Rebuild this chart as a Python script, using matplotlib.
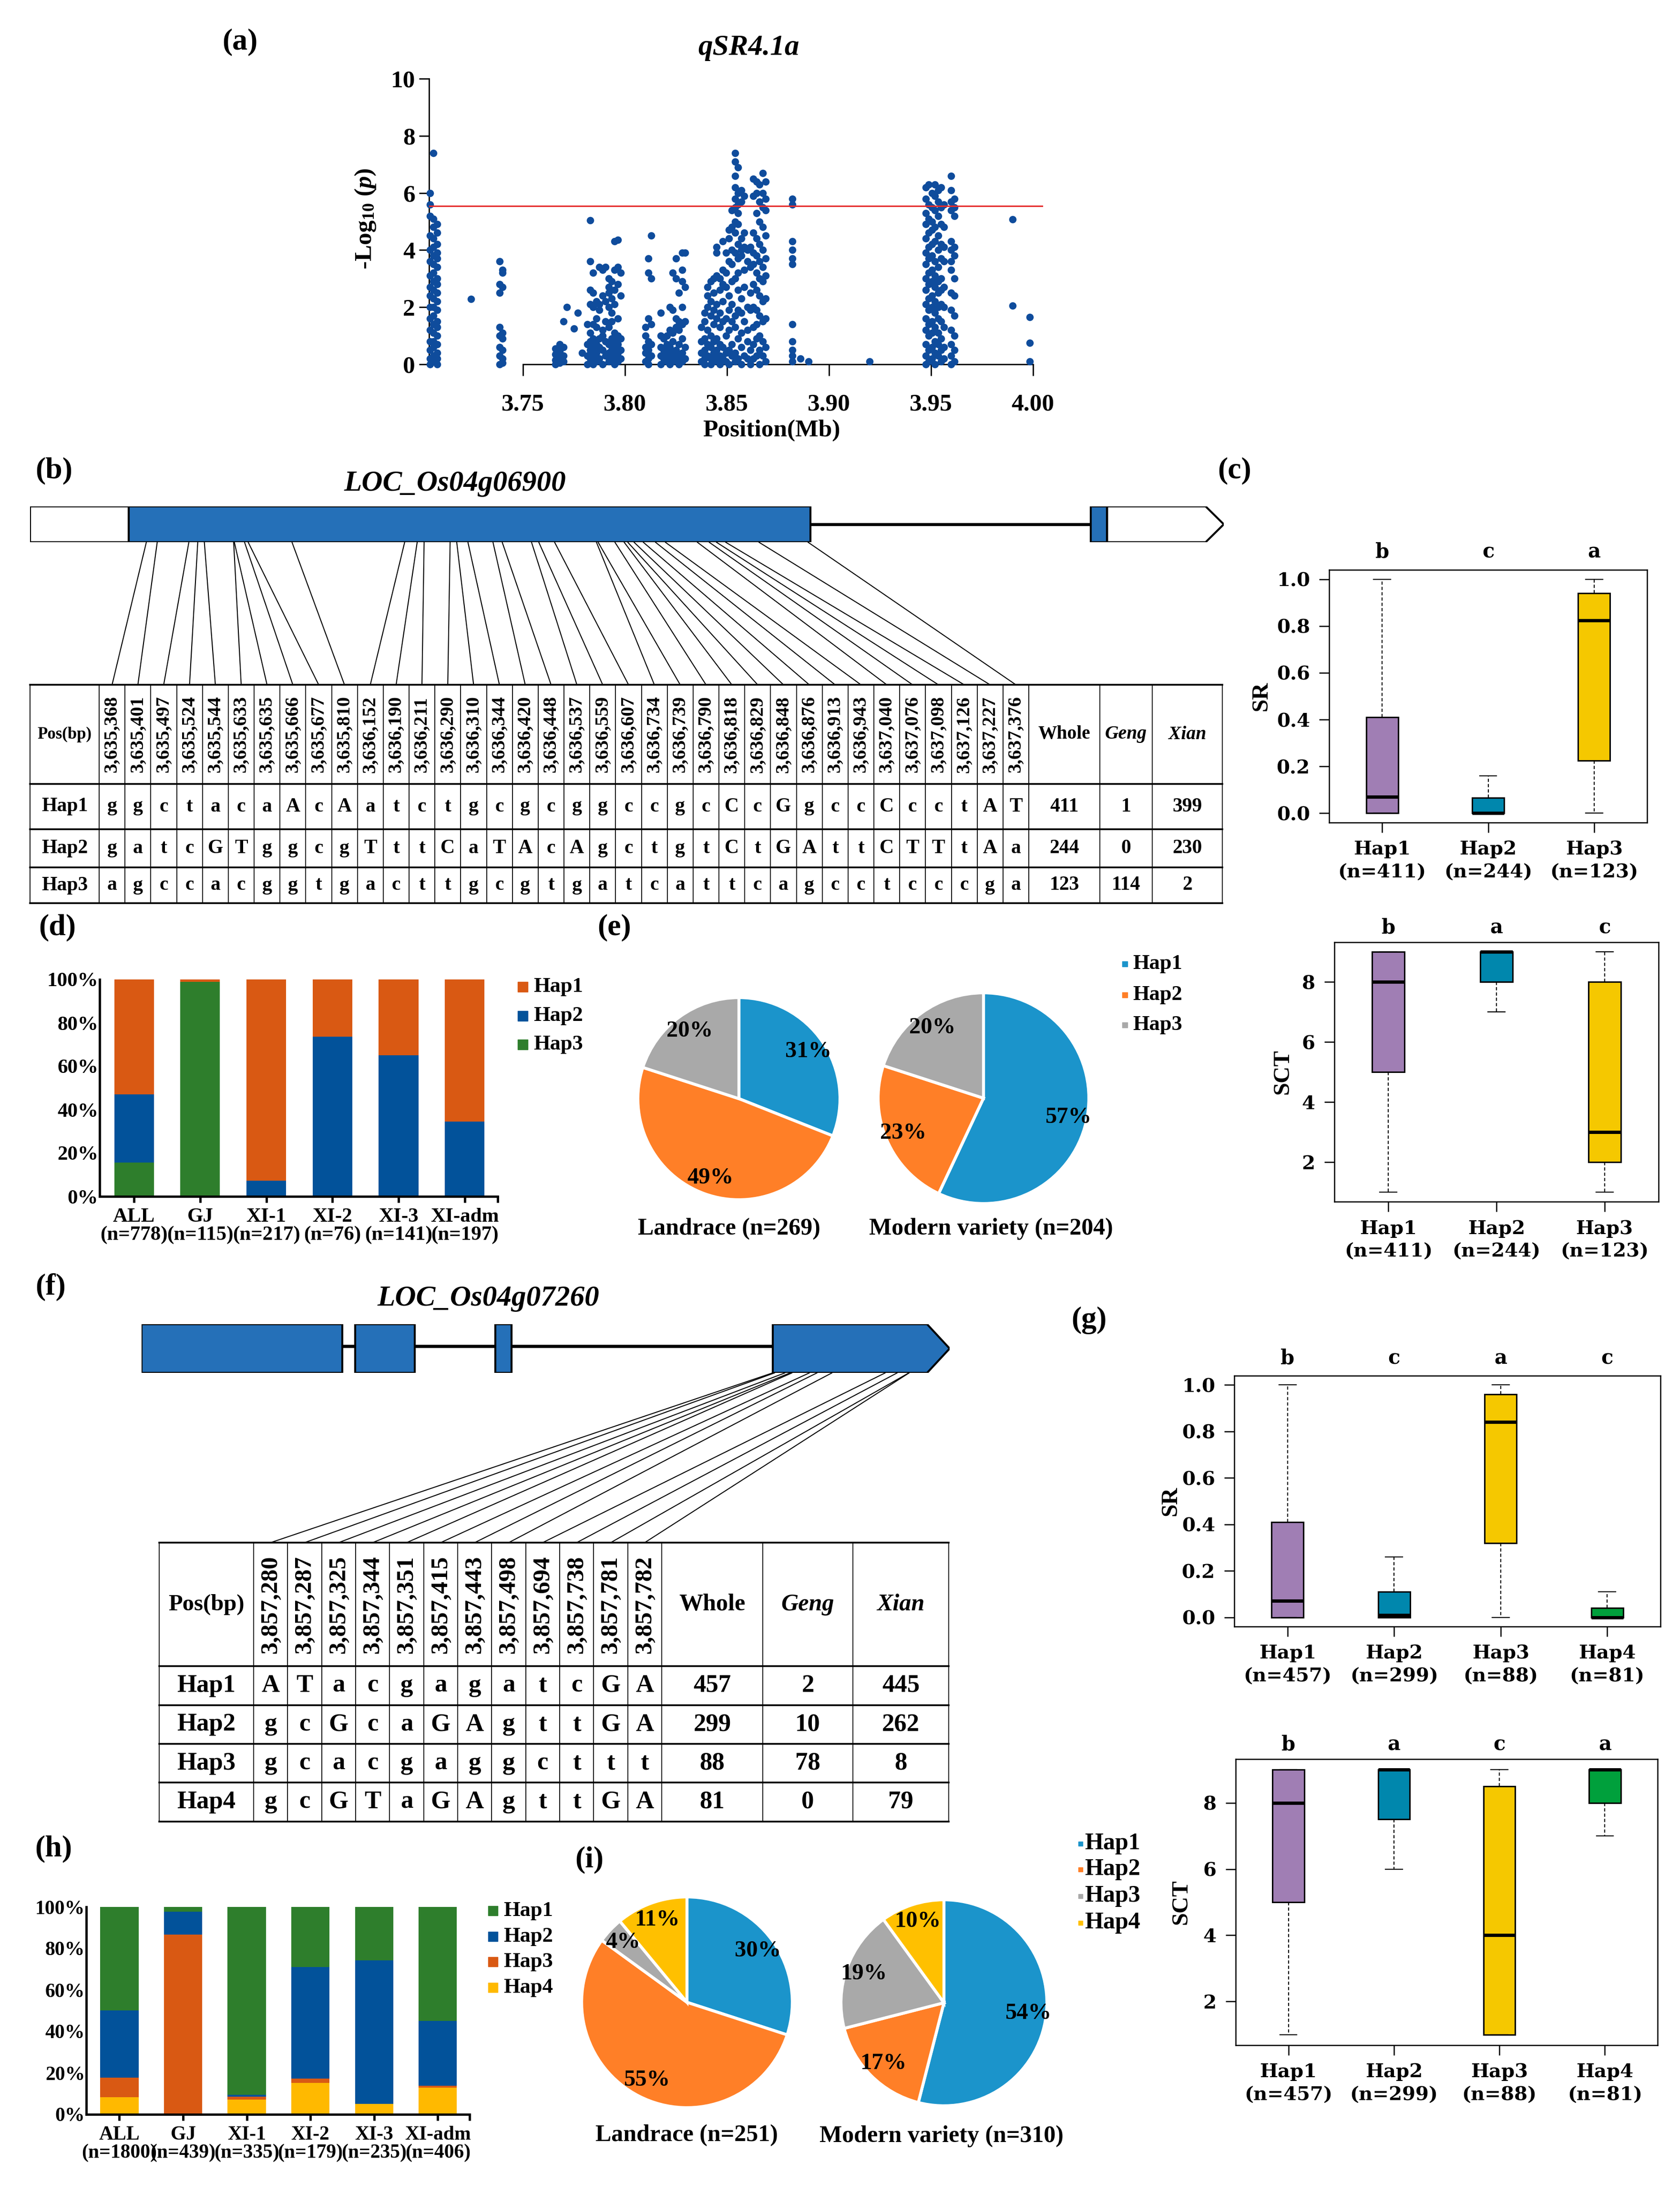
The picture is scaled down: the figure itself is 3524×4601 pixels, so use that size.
import numpy as np
import matplotlib
matplotlib.use('Agg')
import matplotlib.pyplot as plt
from matplotlib.patches import Rectangle, Polygon, ConnectionPatch

plt.rcParams['font.family'] = ['Liberation Serif', 'DejaVu Serif']
plt.rcParams['font.weight'] = 'bold'
plt.rcParams['mathtext.fontset'] = 'custom'
plt.rcParams['mathtext.rm'] = 'Liberation Serif:bold'
plt.rcParams['mathtext.it'] = 'Liberation Serif:italic:bold'
plt.rcParams['mathtext.bf'] = 'Liberation Serif:bold'

# ---------------- data ----------------
# (a) Manhattan plot: SNP columns (Mb) and their -log10(p) values
snp_col_pos = [3.7045, 3.7060, 3.7080, 3.7245, 3.7385, 3.7400, 3.7660, 3.7680, 3.7700, 3.7715,
               3.7750, 3.7770, 3.7790, 3.7815, 3.7830, 3.7845, 3.7860, 3.7875, 3.7890, 3.7905,
               3.7920, 3.7935, 3.7950, 3.7965, 3.7980, 3.8100, 3.8115, 3.8130, 3.8175, 3.8190,
               3.8205, 3.8220, 3.8235, 3.8250, 3.8265, 3.8280, 3.8295, 3.8375, 3.8390, 3.8405,
               3.8420, 3.8435, 3.8450, 3.8465, 3.8480, 3.8495, 3.8510, 3.8525, 3.8540, 3.8555,
               3.8570, 3.8585, 3.8600, 3.8615, 3.8630, 3.8645, 3.8660, 3.8675, 3.8690, 3.8820,
               3.8860, 3.8900, 3.9200, 3.9475, 3.9490, 3.9505, 3.9520, 3.9535, 3.9550, 3.9565,
               3.9600, 3.9615, 3.9900, 3.9985]
snp_col_vals = [
    [6.0, 5.6, 5.2, 4.5, 4.0, 3.6, 3.1, 2.7, 2.4, 2.0, 1.6, 1.2, 0.8, 0.5, 0.2, 0.0],
    [7.4, 5.1, 4.8, 4.4, 4.1, 3.8, 3.5, 3.2, 2.9, 2.6, 2.3, 2.0, 1.7, 1.4, 1.1, 0.8, 0.6, 0.3, 0.1],
    [4.9, 4.6, 4.2, 3.9, 3.7, 3.4, 3.0, 2.8, 2.5, 2.2, 1.9, 1.5, 1.3, 1.0, 0.7, 0.4, 0.2, 0.0],
    [2.28],
    [3.6, 2.8, 2.5, 1.3, 1.0, 0.6, 0.3, 0.0],
    [3.3, 3.2, 2.7, 1.1, 0.9, 0.5, 0.2, 0.05],
    [0.55, 0.35, 0.15, 0.0],
    [0.7, 0.45, 0.25, 0.05],
    [1.5, 0.6, 0.3, 0.1],
    [2.0],
    [1.25],
    [1.8],
    [0.4],
    [1.4, 0.7, 0.3, 0.0],
    [5.05, 3.6, 2.6, 2.1, 1.1, 0.8, 0.5, 0.2],
    [3.2, 2.5, 2.0, 1.4, 0.9, 0.6, 0.3, 0.0],
    [2.2, 1.6, 1.3, 0.7, 0.4, 0.1],
    [3.4, 2.1, 1.9, 0.9, 0.6, 0.2],
    [3.3, 2.4, 1.2, 1.0, 0.5, 0.0],
    [3.4, 2.2, 1.5, 0.8, 0.3],
    [3.0, 2.7, 2.5, 2.0, 1.3, 0.7, 0.4, 0.1],
    [2.9, 2.3, 1.8, 1.5, 0.9, 0.5, 0.2],
    [4.3, 3.3, 2.6, 2.1, 1.1, 0.8, 0.6, 0.3, 0.0],
    [4.35, 3.4, 2.8, 1.6, 1.0, 0.7, 0.4, 0.1],
    [3.2, 2.4, 0.9, 0.5, 0.2],
    [1.3, 1.0, 0.6, 0.4, 0.1],
    [3.7, 3.2, 1.6, 0.8, 0.5, 0.2, 0.0],
    [4.5, 3.0, 1.4, 0.7, 0.3],
    [1.8, 1.0, 0.6, 0.3, 0.0],
    [0.9, 0.5, 0.2],
    [1.0, 0.7, 0.4, 0.1],
    [2.0, 1.2, 0.6, 0.3, 0.0],
    [3.2, 1.9, 1.1, 0.8, 0.4, 0.1],
    [3.7, 3.0, 1.6, 1.3, 0.5, 0.2],
    [2.5, 1.5, 1.2, 0.7, 0.3, 0.0],
    [3.9, 3.3, 2.9, 2.0, 1.4, 0.9, 0.4, 0.1],
    [3.9, 2.7, 1.5, 0.6, 0.2],
    [1.3, 0.8, 0.4, 0.1],
    [1.8, 1.5, 0.9, 0.5, 0.2, 0.0],
    [2.7, 2.4, 2.0, 1.2, 0.7, 0.3],
    [2.9, 2.2, 1.7, 1.0, 0.6, 0.2, 0.0],
    [3.0, 2.5, 1.9, 1.4, 0.8, 0.4, 0.1],
    [4.1, 3.9, 3.1, 2.1, 1.6, 0.9, 0.5, 0.2],
    [3.0, 2.6, 1.8, 1.3, 0.7, 0.3, 0.0],
    [4.3, 3.3, 2.8, 2.2, 1.5, 0.6, 0.2],
    [3.9, 3.2, 2.7, 1.6, 1.0, 0.4, 0.1],
    [4.7, 4.4, 3.6, 2.4, 1.9, 1.2, 0.5, 0.0],
    [5.4, 4.8, 4.0, 3.5, 2.9, 2.1, 1.5, 0.7, 0.3],
    [7.4, 7.1, 6.6, 6.2, 5.8, 5.5, 5.0, 4.6, 3.9, 3.0, 1.7, 1.3, 0.4, 0.1],
    [6.9, 6.0, 5.6, 5.3, 4.9, 4.2, 3.7, 3.2, 2.6, 1.9, 0.9, 0.2],
    [6.1, 5.7, 4.4, 4.0, 3.8, 2.3, 1.8, 1.1, 0.6, 0.0],
    [5.9, 4.6, 4.1, 3.3, 2.7, 1.5, 0.3],
    [4.0, 3.6, 2.0, 1.2, 0.8, 0.2],
    [4.1, 3.4, 2.5, 1.9, 0.5, 0.0],
    [6.5, 5.9, 4.6, 3.9, 3.5, 2.8, 2.0, 1.3, 0.7, 0.2],
    [6.4, 6.0, 5.3, 4.4, 3.8, 3.2, 2.6, 1.9, 1.4, 0.9, 0.3],
    [6.3, 5.7, 5.0, 4.2, 3.6, 3.0, 2.4, 1.7, 1.0, 0.5, 0.0],
    [6.7, 6.0, 5.5, 4.8, 4.0, 3.4, 2.9, 2.2, 1.5, 0.8, 0.3],
    [6.4, 5.8, 5.4, 4.5, 3.7, 3.1, 2.3, 1.6, 0.6, 0.1],
    [5.8, 5.6, 4.3, 4.0, 3.7, 3.5, 1.4, 0.8, 0.5, 0.3, 0.1],
    [0.2], [0.1], [0.1],
    [6.2, 5.8, 5.3, 4.9, 4.4, 3.9, 3.5, 3.0, 2.6, 2.1, 1.6, 1.2, 0.7, 0.3, 0.0],
    [6.3, 5.6, 5.1, 4.6, 4.1, 3.7, 3.2, 2.8, 2.3, 1.9, 1.4, 1.0, 0.5, 0.1],
    [6.0, 5.5, 5.0, 4.7, 4.2, 3.8, 3.3, 2.9, 2.4, 2.0, 1.5, 1.1, 0.6, 0.2],
    [6.3, 5.9, 5.4, 4.8, 4.3, 3.6, 3.1, 2.7, 2.2, 1.8, 1.3, 0.8, 0.4, 0.0],
    [6.1, 5.7, 5.2, 4.5, 4.0, 3.4, 2.9, 2.5, 2.0, 1.6, 1.1, 0.7, 0.3],
    [6.2, 5.5, 4.9, 4.2, 3.7, 3.0, 2.6, 2.1, 1.5, 0.9, 0.5, 0.1],
    [5.6, 4.8, 4.1, 3.6, 2.7, 2.0, 1.3, 0.6, 0.2],
    [6.6, 6.1, 5.7, 5.4, 4.3, 4.0, 3.6, 3.3, 2.5, 1.9, 1.2, 0.7, 0.3, 0.0],
    [5.8, 5.5, 5.2, 4.1, 3.8, 3.0, 2.4, 1.7, 1.0, 0.5, 0.1],
    [5.08, 2.05],
    [1.65, 0.75, 0.1],
]
threshold = 5.55

# (b) LOC_Os04g06900 gene model and haplotype table
g1_utr5 = (3635015, 3635314)
g1_cds = (3635314, 3637383)
g1_exon2 = (3638234, 3638284)
g1_utr3 = (3638284, 3638583, 3638638)
g1_snps = [3635368, 3635401, 3635497, 3635524, 3635544, 3635633, 3635635, 3635666, 3635677,
           3635810, 3636152, 3636190, 3636211, 3636290, 3636310, 3636344, 3636420, 3636448,
           3636537, 3636559, 3636607, 3636734, 3636739, 3636790, 3636818, 3636829, 3636848,
           3636876, 3636913, 3636943, 3637040, 3637076, 3637098, 3637126, 3637227, 3637376]
g1_haps = ['Hap1', 'Hap2', 'Hap3']
g1_alleles = ['ggctacaAcAatctgcgcggccgcCcGgccCcctAT',
              'gatcGTggcgTttCaTAcAgctgtCtGAttCTTtAa',
              'agccacggtgacttgcgtgatcattcagcctcccga']
g1_whole = [411, 244, 123]
g1_geng = [1, 0, 114]
g1_xian = [399, 230, 2]

# (c) box plots for LOC_Os04g06900 haplotypes: [low whisker, Q1, median, Q3, high whisker]
c_labels = ['Hap1\n(n=411)', 'Hap2\n(n=244)', 'Hap3\n(n=123)']
c_sr = [[0.0, 0.0, 0.07, 0.41, 1.0], [0.0, 0.0, 0.0, 0.065, 0.16], [0.0, 0.225, 0.825, 0.94, 1.0]]
c_sct = [[1, 5, 8, 9, 9], [7, 8, 9, 9, 9], [1, 2, 3, 8, 9]]
c_sr_letters = ['b', 'c', 'a']
c_sct_letters = ['b', 'a', 'c']

# (d) haplotype frequency (%) per subpopulation
d_groups = ['ALL', 'GJ', 'XI-1', 'XI-2', 'XI-3', 'XI-adm']
d_n = [778, 115, 217, 76, 141, 197]
d_hap3 = [15.7, 98.9, 0.0, 0.0, 0.0, 0.0]
d_hap2 = [31.3, 0.0, 7.2, 73.6, 65.0, 34.4]
d_hap1 = [53.0, 1.1, 92.8, 26.4, 35.0, 65.6]

# (e) pies
e_land = [31, 49, 20]
e_mod = [57, 23, 20]

# (f) LOC_Os04g07260 gene model and haplotype table
g2_exons = [(3854957, 3855696), (3855743, 3855963), (3856259, 3856319)]
g2_last = (3857280, 3857848, 3857931)
g2_snps = [3857280, 3857287, 3857325, 3857344, 3857351, 3857415, 3857443, 3857498,
           3857694, 3857738, 3857781, 3857782]
g2_haps = ['Hap1', 'Hap2', 'Hap3', 'Hap4']
g2_alleles = ['ATacgagatcGA', 'gcGcaGAgttGA', 'gcacgaggcttt', 'gcGTaGAgttGA']
g2_whole = [457, 299, 88, 81]
g2_geng = [2, 10, 78, 0]
g2_xian = [445, 262, 8, 79]

# (g) box plots for LOC_Os04g07260 haplotypes
g_labels = ['Hap1\n(n=457)', 'Hap2\n(n=299)', 'Hap3\n(n=88)', 'Hap4\n(n=81)']
g_sr = [[0.0, 0.0, 0.07, 0.41, 1.0], [0.0, 0.0, 0.01, 0.11, 0.26],
        [0.0, 0.32, 0.84, 0.96, 1.0], [0.0, 0.0, 0.0, 0.04, 0.11]]
g_sct = [[1, 5, 8, 9, 9], [6, 7.5, 9, 9, 9], [1, 1, 4, 8.5, 9], [7, 8, 9, 9, 9]]
g_sr_letters = ['b', 'c', 'a', 'c']
g_sct_letters = ['b', 'a', 'c', 'a']

# (h) haplotype frequency (%) per subpopulation
h_groups = ['ALL', 'GJ', 'XI-1', 'XI-2', 'XI-3', 'XI-adm']
h_n = [1800, 439, 335, 179, 235, 406]
h_hap4 = [8.2, 0.0, 7.2, 15.1, 5.1, 12.8]
h_hap3 = [9.4, 86.6, 1.2, 2.2, 0.0, 1.0]
h_hap2 = [32.6, 11.2, 1.0, 53.7, 69.2, 31.2]
h_hap1 = [49.8, 2.2, 90.6, 29.0, 25.7, 55.0]

# (i) pies
i_land = [30, 55, 4, 11]
i_mod = [54, 17, 19, 10]

# ---------------- styles ----------------
BLUE_GENE = '#2570B8'
C_ORANGE, C_BLUE, C_GREEN, C_YELLOW = '#D95913', '#02529A', '#2E7E2C', '#FFB900'
PIE_COLS = ['#1B94CB', '#FF7F27', '#A9A9A9', '#FFC000']
BOX_COLS = ['#A07EB4', '#0087AD', '#F5C800', '#00A03C']

W, H = 3524, 4601
fig = plt.figure(figsize=(W / 100, H / 100), dpi=100)


def px_axes(x0, y0, x1, y1):
    return fig.add_axes([x0 / W, 1 - y1 / H, (x1 - x0) / W, (y1 - y0) / H])


canvas = px_axes(0, 0, W, H)
canvas.set_xlim(0, W)
canvas.set_ylim(H, 0)
canvas.axis('off')

for lab, x, y in [('(a)', 503, 88), ('(b)', 113, 987), ('(c)', 2590, 987), ('(d)', 120, 1945),
                  ('(e)', 1289, 1945), ('(f)', 106, 2699), ('(g)', 2284, 2769),
                  ('(h)', 112, 3877), ('(i)', 1236, 3900)]:
    canvas.text(x, y, lab, fontsize=46, ha='center', va='center')

# ---------------- (a) Manhattan ----------------
mx, my = [], []
for p, vals in zip(snp_col_pos, snp_col_vals):
    mx += [p] * len(vals)
    my += vals
ax = px_axes(900, 165, 2188, 764)
ax.scatter(mx, my, s=125, color='#0F4C9C', linewidths=0, clip_on=False, zorder=3)
ax.axhline(threshold, color='#E52C2C', lw=2.2, zorder=4)
ax.set_xlim(3.704, 4.005)
ax.set_ylim(0, 10)
ax.spines[['top', 'right']].set_visible(False)
ax.spines['bottom'].set_bounds(3.75, 4.0)
for s in ['left', 'bottom']:
    ax.spines[s].set_linewidth(2)
ax.set_xticks([3.75, 3.80, 3.85, 3.90, 3.95, 4.00])
ax.set_xticklabels(['3.75', '3.80', '3.85', '3.90', '3.95', '4.00'])
ax.set_yticks([0, 2, 4, 6, 8, 10])
ax.tick_params(axis='x', length=17, width=2, pad=27, labelsize=37)
ax.tick_params(axis='y', length=15, width=2, pad=6, labelsize=37)
canvas.text(1570, 100, 'qSR4.1a', fontsize=44, style='italic', ha='center', va='center')
canvas.text(1618, 903, 'Position(Mb)', fontsize=37, ha='center', va='center')
canvas.text(766, 459, r'-Log$_{\mathrm{10}}$ ($\mathit{p}$)', fontsize=37, rotation=90,
            ha='center', va='center')


# ---------------- gene models + tables ----------------
def draw_table(col_edges, row_edges, positions, haps, alleles, whole, geng, xian,
               fs_pos, fs_txt, fs_head):
    x0, x1 = col_edges[0], col_edges[-1]
    for y in row_edges:
        canvas.plot([x0, x1], [y, y], color='black', lw=2.6, solid_capstyle='projecting')
    for x in col_edges:
        canvas.plot([x, x], [row_edges[0], row_edges[-1]], color='black', lw=1.3)
    centers = [(a + b) / 2 for a, b in zip(col_edges[:-1], col_edges[1:])]
    hy = (row_edges[0] + row_edges[1]) / 2
    canvas.text(centers[0], hy, 'Pos(bp)', fontsize=fs_head, ha='center', va='center')
    for c, p in zip(centers[1:], positions):
        canvas.text(c, hy, f'{p:,}', fontsize=fs_pos, rotation=90, ha='center', va='center')
    for c, lab, st in zip(centers[-3:], ['Whole', 'Geng', 'Xian'], ['normal', 'italic', 'italic']):
        canvas.text(c, hy, lab, fontsize=fs_txt * 0.95, style=st, ha='center', va='center')
    for r, (hap, al, a, b, c3) in enumerate(zip(haps, alleles, whole, geng, xian)):
        ry = (row_edges[r + 1] + row_edges[r + 2]) / 2
        canvas.text(centers[0], ry, hap, fontsize=fs_txt, ha='center', va='center')
        for c, ch in zip(centers[1:], al):
            canvas.text(c, ry, ch, fontsize=fs_txt, ha='center', va='center')
        for c, v in zip(centers[-3:], [a, b, c3]):
            canvas.text(c, ry, str(v), fontsize=fs_txt, ha='center', va='center')
    return centers


def link_snps(gax, snps, centers, y_top):
    for p, c in zip(snps, centers):
        con = ConnectionPatch(xyA=(p, 0), coordsA=gax.transData, xyB=(c, y_top),
                              coordsB=canvas.transData, color='black', lw=1.5)
        fig.add_artist(con)


# gene 1
gax = px_axes(63, 1062, 2567, 1137)
gax.set_xlim(g1_utr5[0], g1_utr3[2])
gax.set_ylim(0, 1)
gax.axis('off')
gax.plot([g1_cds[1], g1_exon2[0]], [0.5, 0.5], color='black', lw=4.6, zorder=1)
gax.add_patch(Rectangle((g1_utr5[0], 0), g1_utr5[1] - g1_utr5[0], 1, fc='white', ec='black', lw=3, zorder=2))
gax.add_patch(Rectangle((g1_cds[0], 0), g1_cds[1] - g1_cds[0], 1, fc=BLUE_GENE, ec='black', lw=3, zorder=2))
gax.add_patch(Rectangle((g1_exon2[0], 0), g1_exon2[1] - g1_exon2[0], 1, fc=BLUE_GENE, ec='black', lw=3, zorder=2))
gax.add_patch(Polygon([(g1_utr3[0], 0), (g1_utr3[1], 0), (g1_utr3[2], 0.5), (g1_utr3[1], 1), (g1_utr3[0], 1)],
                      closed=True, fc='white', ec='black', lw=3, zorder=2))
canvas.text(954, 1014, 'LOC_Os04g06900', fontsize=44, style='italic', ha='center', va='center')

t1_cols = [63] + list(np.linspace(208, 2158, len(g1_snps) + 1)) + [2307, 2417, 2564]
t1_rows = [1436, 1644, 1739, 1819, 1894]
cent1 = draw_table(t1_cols, t1_rows, g1_snps, g1_haps, g1_alleles, g1_whole, g1_geng, g1_xian,
                   29, 30, 25)
link_snps(gax, g1_snps, cent1[1:], t1_rows[0])

# gene 2
gax2 = px_axes(297, 2777, 1992, 2879)
gax2.set_xlim(g2_exons[0][0], g2_last[2])
gax2.set_ylim(0, 1)
gax2.axis('off')
gax2.plot([g2_exons[0][1], g2_last[0]], [0.55, 0.55], color='black', lw=4.7, zorder=1)
for a, b in g2_exons:
    gax2.add_patch(Rectangle((a, 0), b - a, 1, fc=BLUE_GENE, ec='black', lw=3, zorder=2))
gax2.add_patch(Polygon([(g2_last[0], 0), (g2_last[1], 0), (g2_last[2], 0.5), (g2_last[1], 1), (g2_last[0], 1)],
                       closed=True, fc=BLUE_GENE, ec='black', lw=3, zorder=2))
canvas.text(1024, 2723, 'LOC_Os04g07260', fontsize=44, style='italic', ha='center', va='center')

t2_cols = [334] + list(np.linspace(532, 1388, len(g2_snps) + 1)) + [1600, 1789, 1990]
t2_rows = [3235, 3494, 3576, 3657, 3738, 3820]
cent2 = draw_table(t2_cols, t2_rows, g2_snps, g2_haps, g2_alleles, g2_whole, g2_geng, g2_xian,
                   37, 38, 35)
link_snps(gax2, g2_snps, cent2[1:], t2_rows[0])


# ---------------- box plots ----------------
def boxpanel(box, stats5, labels, letters, ylim, yticks, yfmt, ylabel, ylabel_x, letter_off):
    ax = px_axes(*box)
    n = len(stats5)
    stats = [dict(whislo=s[0], q1=s[1], med=s[2], q3=s[3], whishi=s[4], fliers=[]) for s in stats5]
    bp = ax.bxp(stats, positions=range(1, n + 1), widths=0.3, patch_artist=True, showfliers=False,
                boxprops=dict(lw=2.2, edgecolor='black'),
                medianprops=dict(color='black', lw=5, solid_capstyle='butt'),
                whiskerprops=dict(lw=1.6, ls=(0, (3, 2))), capprops=dict(lw=1.6), capwidths=0.16)
    for patch, col in zip(bp['boxes'], BOX_COLS):
        patch.set_facecolor(col)
    ax.set_xlim(0.5, n + 0.5)
    ax.set_ylim(*ylim)
    ax.set_yticks(yticks)
    ax.set_yticklabels([yfmt.format(v) for v in yticks], family='DejaVu Serif', fontsize=29)
    ax.set_xticks(range(1, n + 1))
    ax.set_xticklabels(labels, family='DejaVu Serif', fontsize=29, linespacing=1.35)
    ax.tick_params(axis='y', length=15, width=1.8, pad=14)
    ax.tick_params(axis='x', length=15, width=1.8, pad=12)
    for s in ax.spines.values():
        s.set_linewidth(1.8)
    for i, l in enumerate(letters):
        ax.annotate(l, xy=(i + 1, 1), xycoords=('data', 'axes fraction'), xytext=(0, letter_off),
                    textcoords='offset points', ha='center', va='center', family='DejaVu Serif',
                    fontsize=30)
    canvas.text(ylabel_x, (box[1] + box[3]) / 2, ylabel, rotation=90, fontsize=35,
                ha='center', va='center')


boxpanel((2788, 1195, 3455, 1725), c_sr, c_labels, c_sr_letters, (-0.04, 1.04),
         [0, 0.2, 0.4, 0.6, 0.8, 1.0], '{:.1f}', 'SR', 2645, 27)
boxpanel((2799, 1976, 3479, 2520), c_sct, c_labels, c_sct_letters, (0.68, 9.32),
         [2, 4, 6, 8], '{:d}', 'SCT', 2690, 22)
boxpanel((2589, 2885, 3483, 3411), g_sr, g_labels, g_sr_letters, (-0.04, 1.04),
         [0, 0.2, 0.4, 0.6, 0.8, 1.0], '{:.1f}', 'SR', 2455, 26)
boxpanel((2592, 3689, 3477, 4289), g_sct, g_labels, g_sct_letters, (0.68, 9.32),
         [2, 4, 6, 8], '{:d}', 'SCT', 2477, 22)


# ---------------- stacked bars ----------------
def barpanel(box, groups, ns, layers, colors, fs):
    ax = px_axes(*box)
    x = np.arange(len(groups))
    bottom = np.zeros(len(groups))
    for vals, col in zip(layers, colors):
        ax.bar(x, vals, 0.6, bottom=bottom, color=col, edgecolor='none')
        bottom += np.array(vals)
    ax.set_xlim(-0.52, len(groups) - 0.5)
    ax.set_ylim(0, 100)
    ax.spines[['top', 'right']].set_visible(False)
    for s in ['left', 'bottom']:
        ax.spines[s].set_linewidth(3.5)
    ax.set_yticks(range(0, 101, 20))
    ax.set_yticklabels([f'{v}%' for v in range(0, 101, 20)], fontsize=fs)
    ax.set_xticks(x)
    ax.set_xticks([len(groups) - 0.5], minor=True)
    ax.set_xticklabels([f'{g}\n(n={n})' for g, n in zip(groups, ns)], fontsize=fs, linespacing=1.0)
    ax.tick_params(axis='y', length=0, pad=2)
    ax.tick_params(axis='x', which='both', length=9, width=3.5, pad=8)
    return ax


barpanel((209, 2054, 1044, 2509), d_groups, d_n, [d_hap3, d_hap2, d_hap1],
         [C_GREEN, C_BLUE, C_ORANGE], 31)
barpanel((181, 3999, 985, 4434), h_groups, h_n, [h_hap4, h_hap3, h_hap2, h_hap1],
         [C_YELLOW, C_ORANGE, C_BLUE, C_GREEN], 30)


def legend_boxes(x, ys, labels, colors, size, gap, fs):
    for y, lab, col in zip(ys, labels, colors):
        canvas.add_patch(Rectangle((x, y - size / 2), size, size, color=col))
        canvas.text(x + size + gap, y, lab, va='center', ha='left', fontsize=fs)


legend_boxes(1086, [2069, 2130, 2190], ['Hap1', 'Hap2', 'Hap3'], [C_ORANGE, C_BLUE, C_GREEN], 21, 12, 32)
legend_boxes(1024, [4007, 4061, 4114, 4168], ['Hap1', 'Hap2', 'Hap3', 'Hap4'],
             [C_GREEN, C_BLUE, C_ORANGE, C_YELLOW], 20, 12, 32)


# ---------------- pies ----------------
def piepanel(cx, cy, r, vals, caption, cap_xy):
    ax = px_axes(cx - r, cy - r, cx + r, cy + r)
    ax.pie(vals, colors=PIE_COLS[:len(vals)], startangle=90, counterclock=False, radius=1,
           wedgeprops=dict(edgecolor='white', linewidth=4.5),
           autopct=lambda p: f'{p:.0f}%', pctdistance=0.83,
           textprops=dict(fontsize=35, fontweight='bold', color='black'))
    ax.set_xlim(-1, 1)
    ax.set_ylim(-1, 1)
    ax.set_aspect('equal')
    canvas.text(cap_xy[0], cap_xy[1], caption, fontsize=36, ha='center', va='center')


piepanel(1550, 2304, 212, e_land, 'Landrace (n=269)', (1529, 2577))
piepanel(2063, 2303, 221, e_mod, 'Modern variety (n=204)', (2079, 2577))
piepanel(1441, 4199, 221, i_land, 'Landrace (n=251)', (1440, 4478))
piepanel(1980, 4200, 216, i_mod, 'Modern variety (n=310)', (1975, 4480))

legend_boxes(2354, [2021, 2086, 2149], ['Hap1', 'Hap2', 'Hap3'], PIE_COLS[:3], 11, 11, 32)
legend_boxes(2262, [3866, 3920, 3976, 4032], ['Hap1', 'Hap2', 'Hap3', 'Hap4'], PIE_COLS, 9, 4, 36)

fig.savefig('out.png', dpi=100)
